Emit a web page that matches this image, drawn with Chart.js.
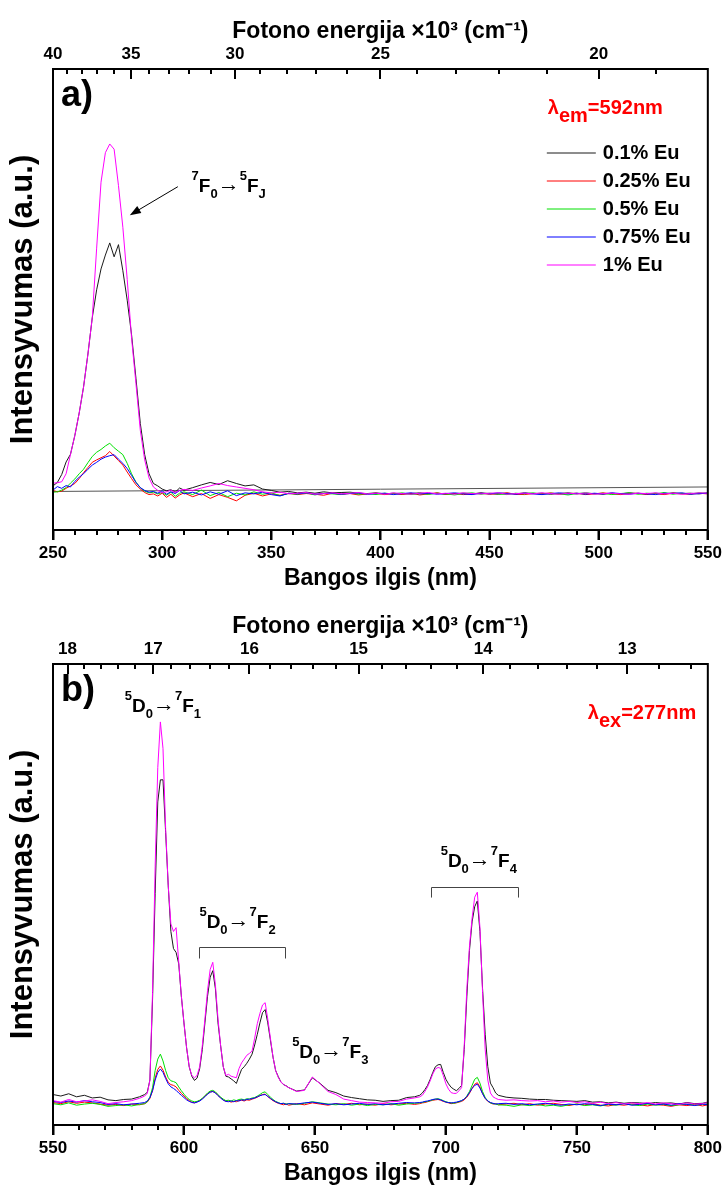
<!DOCTYPE html>
<html>
<head>
<meta charset="utf-8">
<script src="https://cdn.jsdelivr.net/npm/chart.js@4.4.1/dist/chart.umd.min.js"></script>
<style>
  html, body { margin: 0; padding: 0; background: #fff; }
  .panel { position: relative; width: 725px; height: 595px; }
</style>
</head>
<body>
<div class="panel"><canvas id="chart-excitation"></canvas></div>
<div class="panel"><canvas id="chart-emission"></canvas></div>
<script>
// Eu-doped samples: excitation (a) and emission (b) spectra, arbitrary units
const seriesNames = ['0.1% Eu', '0.25% Eu', '0.5% Eu', '0.75% Eu', '1% Eu'];
const seriesColors = ['#1a1a1a', '#ff0000', '#00e000', '#0000ff', '#ff00ff'];

// ---- (a) excitation, lambda_em = 592 nm ----
const wlA = [
  250, 252, 254, 256, 258, 260, 262, 264, 266, 268, 270, 272, 274, 276, 278, 280, 282, 284, 286, 288,
  290, 292, 294, 296, 298, 300, 302, 304, 306, 308, 310,
  314, 318, 322, 326, 330, 334, 338, 342, 346, 350, 354, 358, 362, 366, 370, 374, 378, 382, 386, 390,
  394, 398, 402, 406, 410, 414, 418, 422, 426, 430, 434, 438, 442, 446, 450, 454, 458, 462, 466, 470,
  474, 478, 482, 486, 490, 494, 498, 502, 506, 510, 514, 518, 522, 526, 530, 534, 538, 542, 546, 550
];
const exc01 = [
  1.5, 2.5, 4.8, 8.4, 10.6, 16, 22.5, 30, 39.5, 50, 58, 64, 68, 71.5, 67.5, 71, 63.5, 55, 45, 32.5,
  19.5, 10.5, 5, 2.2, 1.5, 0.6, 0.1, 0.4, -0.3, 0.9, 0.3,
  1.0, 1.8, 2.5, 1.9, 3.0, 2.2, 1.5, 1.8, 0.6, 0.2, -0.3, -0.1, -0.5, -0.3, -0.6, -0.2, -0.5, -0.4, -0.3, -0.6,
  -0.7, -0.5, -0.8, -0.6, -0.9, -0.7, -0.5, -0.8, -0.6, -0.9, -0.7, -0.6, -0.8, -0.5, -0.7, -0.9, -0.6, -0.8, -0.5, -0.7,
  -0.6, -0.9, -0.7, -0.5, -0.8, -0.6, -0.7, -0.9, -0.6, -0.8, -0.5, -0.7, -0.9, -0.6, -0.8, -0.5, -0.7, -0.6, -0.8, -0.5
];
const exc025 = [
  0.2, -0.2, 0, 0.8, 1.5, 2.2, 3.6, 5.3, 6.8, 8.3, 9, 9.6, 10.2, 11.4, 10.1, 8.8, 7.5, 5.5, 3.6, 1.8,
  0.6, -0.4, -1, -0.8, -1.4, -0.6, -1.8, -0.9, -2.0, -1.1, -0.5,
  -1.6, -0.7, -2.1, -1.0, -1.8, -2.8, -1.2, -0.6, -1.4, -0.8, -1.2, -0.6, -1.0, -0.7, -0.9, -1.2, -0.6, -0.9, -0.7, -1.1,
  -0.8, -0.6, -1.0, -0.7, -0.9, -0.6, -1.1, -0.8, -0.5, -0.9, -0.7, -1.0, -0.8, -0.6, -0.9, -0.7, -0.5, -0.9, -1.0, -0.7,
  -0.8, -0.5, -0.9, -0.7, -0.6, -1.0, -0.8, -0.5, -0.8, -1.0, -0.7, -0.6, -0.9, -0.7, -1.0, -0.6, -0.8, -0.9, -0.6, -0.8
];
const exc05 = [
  -0.3, -0.2, 0.3, 1, 2.3, 3.5, 5, 6.3, 8.2, 10, 11.2, 12, 13, 13.8, 12.5, 11.5, 10.5, 8, 5, 2.6,
  1, 0, -0.5, -0.3, -0.8, -0.4, -1.2, -0.3, -1.5, -0.6, -0.2,
  -1.0, 0.3, -1.3, -0.4, -1.6, -0.6, -1.1, -0.2, -0.9, -0.5, -1.3, -0.7, -0.9, -0.5, -1.1, -0.6, -0.8, -1.0, -0.5, -0.9,
  -0.7, -1.0, -0.6, -0.8, -0.5, -1.0, -0.7, -0.9, -0.6, -0.8, -1.1, -0.7, -0.5, -0.9, -0.6, -0.8, -1.0, -0.6, -0.8, -0.5,
  -0.9, -0.6, -0.8, -1.1, -0.7, -0.5, -0.8, -0.6, -1.0, -0.7, -0.5, -0.9, -0.6, -0.8, -0.4, -0.9, -0.6, -0.8, -0.5, -0.7
];
const exc075 = [
  0.3, 1.3, 0.8, 1.6, 1.2, 2.8, 4, 5, 6.3, 7.5, 8.3, 9.2, 9.8, 10.2, 10.5, 9.2, 8, 6.5, 4.5, 2.5,
  1, 0.2, -0.3, -0.1, -0.6, 0.1, -0.9, -0.2, -0.7, 0.2, -0.8,
  -0.3, -1.1, -0.2, -0.9, 0.1, -1.3, -0.5, -0.8, -0.3, -1.0, -1.4, -0.6, -0.8, -0.5, -0.9, -0.7, -0.6, -0.9, -0.7, -0.5,
  -0.9, -0.7, -0.6, -1.0, -0.7, -0.5, -0.8, -0.6, -0.9, -0.7, -0.5, -0.8, -1.0, -0.6, -0.8, -0.5, -0.7, -0.9, -0.6, -0.8,
  -1.0, -0.7, -0.5, -0.8, -0.6, -0.9, -0.6, -0.8, -0.5, -0.7, -0.9, -0.6, -0.8, -1.0, -0.6, -0.7, -0.5, -0.9, -0.7, -0.6
];
const exc1 = [
  2.3, 2.4, 2.7, 5, 10.5, 16, 22.5, 30, 39.5, 50, 70, 89, 97.5, 100, 98.5, 88, 76, 61, 44, 31,
  17.5, 9, 3.8, 1.2, 0.2, -0.5, -0.2, 0.3, -0.4, 0.2, 0.5,
  0.2, 0.9, 1.5, 2.2, 1.6, 1.2, 0.8, 0.4, -0.2, -0.5, -0.3, -0.8, -0.6, -0.4, -0.9, -0.7, -0.5, -0.8, -0.6, -0.4,
  -0.8, -0.6, -0.9, -0.5, -0.7, -0.9, -0.6, -0.4, -0.8, -0.6, -0.9, -0.5, -0.7, -0.8, -0.6, -0.5, -0.9, -0.7, -0.6, -0.8,
  -0.5, -0.7, -0.9, -0.6, -0.8, -0.5, -0.9, -0.7, -0.6, -0.8, -0.9, -0.6, -0.7, -0.5, -0.8, -0.6, -0.9, -0.7, -0.5, -0.6
];
// straight reference line under the excitation curves
const refLineX = [250, 550];
const refLineY = [-0.1, 1.2];

// ---- (b) emission, lambda_ex = 277 nm ----
const wlB = [
  550, 553, 556, 559, 562, 565, 568, 571, 574, 577, 580, 583,
  585, 586, 587, 588, 589, 590, 591, 592, 593, 594, 595, 596, 597, 598, 599, 600, 601, 602, 603, 604,
  605, 606, 607, 608, 609, 610, 611, 612, 613, 614, 615, 616, 617, 618, 619, 620, 621, 622, 623, 624,
  625, 626, 627, 628, 629, 630, 631, 632, 633, 634, 635, 636, 637, 638, 639, 640,
  643, 646, 649, 652, 655, 658, 661, 664, 667, 670, 673, 676, 679, 682, 685, 688,
  690, 691, 692, 693, 694, 695, 696, 697, 698, 699, 700, 701, 702, 703, 704, 705, 706, 707, 708, 709,
  710, 711, 712, 713, 714, 715, 716, 717, 718, 719, 720,
  723, 726, 729, 732, 735, 738, 741, 744, 747, 750, 753, 756, 759, 762, 765, 768, 771, 774, 777, 780,
  783, 786, 789, 792, 795, 798, 800
];
const em01 = [
  2.2, 1.8, 2.4, 1.6, 2.0, 1.3, 1.5, 0.8, 0.6, 0.9, 1.0, 1.6,
  2.2, 2.8, 6, 27, 55, 79, 84.8, 84.8, 71, 57, 45, 40.5, 39.5, 36.5, 28, 21, 14.5, 9.5, 7, 5.9,
  6.5, 9, 14, 21, 28, 33, 34.7, 30, 21, 15, 9.5, 7, 6.8, 6.3, 5.8, 5.1, 7, 8.8, 9.5, 10.4,
  11.5, 12.8, 15.2, 18, 21, 23.7, 24.5, 21, 16.5, 12, 8.5, 6.9, 5.5, 4.8, 4.5, 4.0,
  3.1, 3.4, 6.6, 5.1, 3.3, 2.7, 1.8, 1.4, 1.1, 0.8, 0.7, 0.4, 0.6, 0.7, 1.4, 1.6,
  2.0, 2.6, 3.5, 4.6, 6.2, 8.0, 9.5, 10.0, 10.1, 8.0, 6.2, 5.0, 4.1, 3.6, 3.2, 3.8, 4.6, 14, 28, 40,
  47.5, 51.5, 53, 45, 30, 18, 9.5, 5.2, 4.0, 2.6, 2.0,
  1.5, 1.3, 1.2, 1.0, 0.9, 0.9, 0.7, 0.6, 0.5, 0.4, 0.6, 0.2, 0.3, 0.0, 0.2, -0.1, 0.1, 0.0, -0.2, 0.1,
  -0.1, 0.0, -0.3, 0.1, -0.2, -0.1, 0.2
];
const em025 = [
  0.1, -0.2, 0.3, -0.1, 0.2, 0.0, -0.3, -0.6, -0.4, -0.7, -0.3, -0.5,
  -0.2, 0.2, 1.2, 3.2, 6.5, 8.8, 9.7, 8.6, 6.8, 5.4, 4.8, 4.6, 4.2, 3.3, 2.5, 1.8, 1.1, 0.6, 0.2, 0.0,
  0.3, 0.6, 1.1, 1.8, 2.4, 2.9, 3.0, 2.7, 2.0, 1.3, 0.8, 0.4, 0.5, 0.2, 0.4, 0.3, 0.6, 0.7, 0.5, 0.8,
  0.7, 1.0, 1.2, 1.5, 1.9, 2.2, 2.3, 1.7, 1.1, 0.6, 0.2, -0.1, -0.3, -0.5, -0.3, -0.6,
  -0.2, -0.5, 0.0, -0.3, -0.6, -0.2, -0.4, -0.1, -0.5, -0.3, -0.6, -0.2, -0.5, -0.3, -0.1, -0.4,
  -0.2, 0.0, 0.1, 0.3, 0.5, 0.7, 0.8, 0.9, 0.7, 0.4, 0.2, 0.0, -0.2, -0.1, 0.0, 0.2, 0.4, 0.8, 1.5, 2.5,
  3.8, 4.9, 5.3, 4.2, 2.5, 1.2, 0.4, 0.0, -0.3, -0.2, -0.5,
  -0.3, -0.1, -0.5, -0.2, -0.6, -0.3, -0.1, -0.4, -0.7, -0.3, -0.5, -0.2, -0.6, -0.8, -0.4, -0.6, -0.3, -0.5, -0.8, -0.4,
  -0.6, -0.9, -0.5, -0.7, -0.4, -0.8, -0.5
];
const em05 = [
  -0.2, -0.5, 0.0, -0.6, -0.3, -0.1, -0.4, -0.9, -0.7, -0.5, -0.8, -0.4,
  -0.2, 0.3, 1.5, 4, 8.5, 11.5, 12.8, 11, 8.5, 6.6, 5.8, 5.6, 5.3, 4.2, 3.2, 2.3, 1.5, 0.9, 0.5, 0.3,
  0.4, 0.7, 1.2, 1.9, 2.6, 3.1, 3.3, 2.9, 2.2, 1.5, 1.0, 0.6, 0.7, 0.5, 0.8, 0.6, 0.9, 1.0, 0.8, 1.1,
  1.0, 1.3, 1.4, 1.8, 2.2, 2.7, 2.9, 2.2, 1.5, 0.9, 0.4, 0.1, -0.2, -0.1, -0.3, -0.2,
  -0.4, -0.1, 0.3, 0.0, -0.3, -0.5, -0.2, -0.6, -0.3, -0.7, -0.4, -0.5, -0.2, -0.6, -0.3, -0.1,
  0.0, 0.1, 0.3, 0.4, 0.6, 0.8, 1.0, 1.1, 0.9, 0.6, 0.3, 0.1, 0.0, -0.1, 0.1, 0.3, 0.6, 1.0, 1.8, 3.0,
  4.6, 6.2, 6.7, 5.2, 3.0, 1.4, 0.5, 0.0, -0.2, -0.3, -0.5,
  -0.6, -0.9, -0.5, -0.7, -0.4, -0.8, -0.6, -0.9, -0.5, -0.3, -0.7, -0.5, -0.8, -0.4, -0.6, -0.2, -0.5, -0.7, -0.3, -0.6,
  -0.4, -0.7, -0.5, -0.3, -0.6, -0.4, -0.2
];
const em075 = [
  0.4, 0.1, 0.5, 0.2, 0.6, 0.3, 0.1, -0.4, -0.2, -0.5, -0.3, -0.1,
  0.1, 0.5, 1.4, 3.2, 6.0, 8.0, 8.9, 8.0, 6.4, 5.0, 4.2, 3.8, 3.3, 2.6, 2.0, 1.4, 0.8, 0.4, 0.1, 0.0,
  0.2, 0.5, 1.0, 1.6, 2.3, 2.8, 3.0, 2.6, 1.9, 1.3, 0.7, 0.4, 0.3, 0.5, 0.3, 0.6, 0.5, 0.8, 0.7, 0.9,
  1.0, 1.1, 1.3, 1.6, 1.9, 2.1, 2.2, 1.7, 1.2, 0.7, 0.3, 0.0, -0.2, -0.1, -0.4, -0.2,
  -0.3, 0.0, 0.2, -0.1, -0.4, -0.2, -0.5, -0.3, -0.1, -0.4, -0.2, -0.5, -0.3, -0.1, 0.1, 0.0,
  0.1, 0.2, 0.4, 0.5, 0.7, 0.9, 1.0, 1.0, 0.8, 0.5, 0.2, 0.1, 0.0, 0.1, 0.2, 0.4, 0.6, 1.0, 1.7, 2.7,
  3.8, 4.6, 4.9, 3.9, 2.4, 1.2, 0.5, 0.1, -0.1, -0.3, -0.2,
  -0.1, -0.4, -0.2, -0.5, -0.3, -0.1, -0.4, -0.6, -0.3, -0.5, -0.2, -0.4, -0.7, -0.3, -0.5, -0.2, -0.6, -0.4, -0.1, -0.5,
  -0.3, -0.6, -0.2, -0.4, -0.7, -0.3, -0.5
];
const em1 = [
  0.6, 0.2, 0.9, 0.3, 0.5, 0.8, 0.4, -0.2, 0.1, 0.3, 0.6, 1.2,
  1.8, 2.5, 6, 29, 62, 88, 100, 93, 72, 57, 47, 45, 46, 37, 28, 21, 14.5, 9.5, 7.2, 6.6,
  7.2, 9.5, 15, 22, 29.5, 35, 36.9, 31, 22, 15, 9.5, 7.2, 7.5, 7, 6.8, 6.6, 9, 10.5, 11.5, 12.5,
  13, 13.6, 17, 20.8, 23.5, 25.7, 26.3, 22, 17, 12, 8.5, 6.7, 5.5, 4.9, 4.4, 4.0,
  3.0, 3.3, 6.8, 5.0, 3.0, 2.2, 1.0, 0.6, 0.2, 0.1, 0.0, -0.1, 0.3, 0.4, 1.0, 1.3,
  1.6, 2.0, 3.0, 4.2, 5.8, 7.6, 8.9, 9.3, 9.1, 7.2, 5.0, 3.6, 2.7, 2.5, 2.5, 3.2, 4.0, 15, 30, 41,
  48.5, 54, 55.3, 46, 29, 14, 6, 2.6, 1.6, 1.2, 0.9,
  0.7, 0.8, 0.6, 0.5, 0.6, 0.3, 0.5, 0.2, 0.4, 0.1, 0.3, -0.1, 0.2, -0.2, 0.1, -0.3, 0.0, -0.2, 0.1, -0.3,
  0.0, -0.2, -0.4, 0.0, -0.3, -0.2, 0.1
];

// top axis: photon energy in 10^3 cm^-1, placed at lambda = 10^4 / nu
const nuMajorA = [40, 35, 30, 25, 20];
const nuMinorA = [39, 38, 37, 36, 34, 33, 32, 31, 29, 28, 27, 26, 24, 23, 22, 21, 19];
const nuMajorB = [18, 17, 16, 15, 14, 13];
const nuMinorB = [17.8, 17.6, 17.4, 17.2, 16.8, 16.6, 16.4, 16.2, 15.8, 15.6, 15.4, 15.2,
  14.8, 14.6, 14.4, 14.2, 13.8, 13.6, 13.4, 13.2, 12.8, 12.6];

const FONT = "'Liberation Sans', Arial, Helvetica, sans-serif";

function D0toF(j) {
  return [['5', 'sup'], ['D', ''], ['0', 'sub'], ['\u2192', 'arrow'], ['7', 'sup'], ['F', ''], [j, 'sub']];
}

// transition labels in data coordinates (nm, intensity)
const excNotes = [
  { nm: 313.5, v: 86.2, text: [['7', 'sup'], ['F', ''], ['0', 'sub'], ['\u2192', 'arrow'], ['5', 'sup'], ['F', ''], ['J', 'sub']] }
];
const excPointer = { from: [307.2, 87.7], to: [285.2, 79.5] };
const emNotes = [
  { nm: 577.4, v: 102.5, text: D0toF('1') },
  { nm: 605.9, v: 45.8, text: D0toF('2') },
  { nm: 641.3, v: 11.8, text: D0toF('3') },
  { nm: 698.0, v: 61.8, text: D0toF('4') }
];
const emBrackets = [
  { from: 605.6, to: 638.7, top: 40.8, foot: 37.9 },
  { from: 694.5, to: 727.7, top: 56.6, foot: 53.9 }
];

function drawRich(ctx, list, x, y, size) {
  let cx = x;
  list.forEach(([t, role]) => {
    let fs = size, dy = 0, weight = 'bold ';
    if (role === 'sup') { fs = Math.round(size * 0.7); dy = -Math.round(size * 0.62); }
    if (role === 'sub') { fs = Math.round(size * 0.7); dy = Math.round(size * 0.33); }
    if (role === 'arrow') { weight = ''; fs = size + 3; dy = -1; }
    ctx.font = weight + fs + 'px ' + FONT;
    ctx.fillText(t, cx, y + dy);
    cx += ctx.measureText(t).width;
  });
}

// tick marks as small filled bars at the given axis values
function drawTickMarks(ctx, scale, values, y0, len) {
  values.forEach((v) => {
    const px = Math.round(scale.getPixelForValue(v));
    ctx.fillRect(px - 1, len > 0 ? y0 : y0 + len, 2, Math.abs(len));
  });
}

function decorPlugin(opts) {
  return {
    id: 'spectrumDecor',
    afterDraw(chart) {
      const { ctx, chartArea: a, scales } = chart;
      const sx = scales.x, sy = scales.y;
      ctx.save();
      ctx.fillStyle = '#000';
      ctx.strokeStyle = '#000';
      ctx.lineWidth = 2;
      ctx.setLineDash([]);

      // bottom ticks point out, top ticks point in
      drawTickMarks(ctx, sx, opts.majorNm, a.bottom, 10);
      drawTickMarks(ctx, sx, opts.minorNm, a.bottom, 5);
      drawTickMarks(ctx, sx, opts.majorNu.map((nu) => 1e4 / nu), a.top, 10);
      drawTickMarks(ctx, sx, opts.minorNu.map((nu) => 1e4 / nu), a.top, 5);
      ctx.strokeRect(a.left, a.top, a.right - a.left, a.bottom - a.top);

      // panel letter
      ctx.textBaseline = 'alphabetic';
      ctx.font = 'bold 36px ' + FONT;
      ctx.fillText(opts.letter, a.left + 8, a.top + 37);

      // red lambda label
      ctx.fillStyle = '#ff0000';
      let lx = a.right - opts.lambdaDx;
      const ly = a.top + opts.lambdaDy;
      ctx.font = 'bold 20px ' + FONT;
      ctx.fillText('\u03bb', lx, ly); lx += ctx.measureText('\u03bb').width;
      ctx.fillText(opts.lambdaSub, lx, ly + 8); lx += ctx.measureText(opts.lambdaSub).width;
      ctx.fillText('=' + opts.lambdaValue, lx, ly);
      ctx.fillStyle = '#000';

      // legend from the labelled datasets
      if (opts.legend) {
        ctx.font = 'bold 20px ' + FONT;
        ctx.textBaseline = 'middle';
        chart.data.datasets.filter((d) => d.label).forEach((d, i) => {
          const y = a.top + 84 + i * 28;
          ctx.strokeStyle = d.borderColor;
          ctx.lineWidth = 1;
          ctx.beginPath(); ctx.moveTo(a.right - 161, y); ctx.lineTo(a.right - 112, y); ctx.stroke();
          ctx.fillText(d.label, a.right - 105, y);
        });
        ctx.textBaseline = 'alphabetic';
      }

      // transition notes
      (opts.notes || []).forEach((n) => {
        drawRich(ctx, n.text, sx.getPixelForValue(n.nm), sy.getPixelForValue(n.v), 19);
      });

      // brackets
      ctx.strokeStyle = '#444';
      ctx.lineWidth = 1;
      (opts.brackets || []).forEach((b) => {
        const x1 = Math.round(sx.getPixelForValue(b.from)) + 0.5;
        const x2 = Math.round(sx.getPixelForValue(b.to)) + 0.5;
        const yt = Math.round(sy.getPixelForValue(b.top)) + 0.5;
        const yf = sy.getPixelForValue(b.foot);
        ctx.beginPath(); ctx.moveTo(x1, yf); ctx.lineTo(x1, yt); ctx.lineTo(x2, yt); ctx.lineTo(x2, yf); ctx.stroke();
      });

      // pointer arrow
      if (opts.pointer) {
        const fx = sx.getPixelForValue(opts.pointer.from[0]), fy = sy.getPixelForValue(opts.pointer.from[1]);
        const tx = sx.getPixelForValue(opts.pointer.to[0]), ty = sy.getPixelForValue(opts.pointer.to[1]);
        const ang = Math.atan2(ty - fy, tx - fx);
        const c = Math.cos(ang), s = Math.sin(ang);
        ctx.strokeStyle = '#000';
        ctx.beginPath(); ctx.moveTo(fx, fy); ctx.lineTo(tx - 8 * c, ty - 8 * s); ctx.stroke();
        ctx.beginPath();
        ctx.moveTo(tx, ty);
        ctx.lineTo(tx - 11 * c + 4 * s, ty - 11 * s - 4 * c);
        ctx.lineTo(tx - 11 * c - 4 * s, ty - 11 * s + 4 * c);
        ctx.closePath(); ctx.fill();
      }
      ctx.restore();
    }
  };
}

function makeSpectrum(canvasId, cfg) {
  const datasets = cfg.series.map((vals, i) => ({
    label: seriesNames[i],
    data: cfg.wl.map((x, j) => ({ x, y: vals[j] })),
    borderColor: seriesColors[i],
    borderWidth: 1,
    pointRadius: 0,
    tension: 0,
    order: seriesNames.length - 1 - i
  }));
  if (cfg.extra) datasets.push(cfg.extra);

  const topTicks = cfg.nuMajor.map((nu) => ({ nu, major: true }))
    .concat(cfg.nuMinor.map((nu) => ({ nu, major: false })))
    .sort((p, q) => q.nu - p.nu);

  // labelled every 50 nm, short marks every 10 nm
  const majorNm = [], minorNm = [];
  for (let v = cfg.min; v <= cfg.max; v += 10) (v % 50 === 0 ? majorNm : minorNm).push(v);

  const boldFont = (size) => ({ family: FONT, size, weight: 'bold' });
  const clear = 'rgba(0,0,0,0)';

  return new Chart(document.getElementById(canvasId), {
    type: 'line',
    data: { datasets },
    options: {
      responsive: true,
      maintainAspectRatio: false,
      animation: false,
      layout: { padding: { left: 0, right: 13, top: 0, bottom: 0 } },
      plugins: { legend: { display: false }, tooltip: { enabled: false } },
      scales: {
        x: {
          type: 'linear', position: 'bottom', min: cfg.min, max: cfg.max,
          afterFit: (s) => { s.height = 65; },
          ticks: {
            stepSize: 50, autoSkip: false, maxRotation: 0, padding: 3, color: '#000',
            font: boldFont(17)
          },
          grid: {
            drawOnChartArea: false, drawTicks: true, tickLength: 10, tickWidth: 2,
            color: clear, tickColor: '#000'
          },
          border: { display: false },
          title: {
            display: true, text: 'Bangos ilgis (nm)', color: '#000',
            font: boldFont(23), padding: { top: 0, bottom: 3 }
          }
        },
        x2: {
          type: 'linear', position: 'top', min: cfg.min, max: cfg.max,
          afterBuildTicks: (s) => { s.ticks = topTicks.map((t) => ({ value: 1e4 / t.nu })); },
          afterFit: (s) => { s.height = 69; },
          ticks: {
            autoSkip: false, maxRotation: 0, padding: 4, color: '#000',
            font: boldFont(17),
            callback: (v, i) => (topTicks[i] && topTicks[i].major ? String(topTicks[i].nu) : '')
          },
          grid: { drawOnChartArea: false, drawTicks: false, color: clear },
          border: { display: false },
          title: {
            display: true, text: 'Fotono energija \u00d710\u00b3 (cm\u207b\u00b9)', color: '#000',
            font: boldFont(23), padding: { top: 18, bottom: 0 }
          }
        },
        y: {
          min: cfg.yMin, max: cfg.yMax,
          afterFit: (s) => { s.width = 53; },
          ticks: { display: false },
          grid: { display: false },
          border: { display: false },
          title: {
            display: true, text: 'Intensyvumas (a.u.)', color: '#000',
            font: boldFont(31), padding: { top: 5, bottom: 0 }
          }
        }
      }
    },
    plugins: [decorPlugin(Object.assign({ majorNm, minorNm, majorNu: cfg.nuMajor, minorNu: cfg.nuMinor }, cfg.decor))]
  });
}

makeSpectrum('chart-excitation', {
  wl: wlA,
  series: [exc01, exc025, exc05, exc075, exc1],
  extra: {
    label: '',
    data: refLineX.map((x, j) => ({ x, y: refLineY[j] })),
    borderColor: '#555', borderWidth: 1, pointRadius: 0, order: 10
  },
  min: 250, max: 550, yMin: -11.2, yMax: 121.6,
  nuMajor: nuMajorA, nuMinor: nuMinorA,
  decor: {
    letter: 'a)', lambdaSub: 'em', lambdaValue: '592nm', lambdaDx: 160, lambdaDy: 45, legend: true,
    notes: excNotes, pointer: excPointer
  }
});

makeSpectrum('chart-emission', {
  wl: wlB,
  series: [em01, em025, em05, em075, em1],
  min: 550, max: 800, yMin: -5.8, yMax: 115.2,
  nuMajor: nuMajorB, nuMinor: nuMinorB,
  decor: {
    letter: 'b)', lambdaSub: 'ex', lambdaValue: '277nm', lambdaDx: 120, lambdaDy: 55, legend: false,
    notes: emNotes, brackets: emBrackets
  }
});
</script>
</body>
</html>
